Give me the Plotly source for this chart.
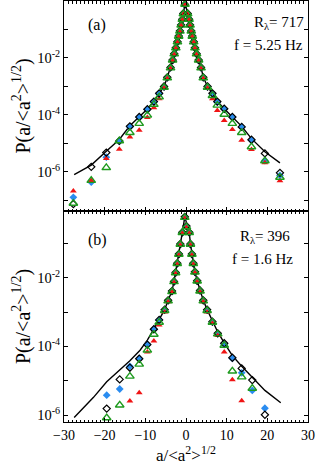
import numpy as np
import plotly.graph_objects as go

# ---------------- Panel (a): R_lambda = 717, f = 5.25 Hz ----------------
xa = [-27.7, -23.3, -19.6, -16.4, -13.8, -11.5, -9.5, -7.9, -6.6, -5.4, -4.6, -3.8, -3.3, -2.9, -2.5, -2.1,
      -1.8, -1.5, -1.2, -0.9, -0.65, -0.25,
      0.4, 0.75, 1.0, 1.3, 1.55, 1.9, 2.2, 2.6, 3.1, 3.7, 4.25, 5.3, 6.5, 7.7, 9.4, 11.4, 13.7, 16.1, 19.4, 23.1]
log_black_a = [-7.13, -5.82, -5.32, -4.91, -4.40, -4.07, -3.80, -3.53, -3.24, -3.00, -2.68, -2.33, -2.07, -1.85, -1.64, -1.43,
               -1.23, -1.05, -0.84, -0.64, -0.44, -0.12,
               -0.44, -0.64, -0.84, -1.05, -1.23, -1.43, -1.64, -1.85, -2.07, -2.33, -2.68, -3.00, -3.24, -3.53, -3.78, -4.07, -4.42, -4.87, -5.35, -6.03]
log_blue_a = [-6.89, -6.36, -5.48, -4.93, -4.42, -4.08, -3.81, -3.55, -3.26, -3.01, -2.69, -2.34, -2.08, -1.86, -1.65, -1.44,
              -1.24, -1.06, -0.85, -0.65, -0.45, -0.13,
              -0.45, -0.65, -0.85, -1.06, -1.24, -1.44, -1.65, -1.86, -2.08, -2.34, -2.69, -3.01, -3.26, -3.55, -3.79, -4.07, -4.42, -4.89, -5.60, -6.12]
log_red_a = [-6.67, -6.30, -5.53, -5.20, -4.77, -4.54, -4.09, -3.75, -3.43, -3.05, -2.72, -2.37, -2.10, -1.88, -1.66, -1.45,
             -1.25, -1.07, -0.86, -0.66, -0.46, -0.14,
             -0.46, -0.66, -0.86, -1.07, -1.25, -1.45, -1.66, -1.88, -2.10, -2.37, -2.72, -3.05, -3.43, -3.84, -4.19, -4.51, -4.89, -5.21, -5.68, -6.31]
log_green_a = [-7.10, -6.30, -5.85, -4.91, -4.62, -4.30, -4.01, -3.63, -3.37, -3.03, -2.70, -2.35, -2.08, -1.86, -1.65, -1.44,
               -1.24, -1.06, -0.85, -0.65, -0.45, -0.12,
               -0.45, -0.65, -0.85, -1.06, -1.24, -1.44, -1.65, -1.86, -2.08, -2.35, -2.70, -3.03, -3.32, -3.66, -3.98, -4.30, -4.62, -5.12, -5.61, -6.19]
x_fit_a = [-27.5, -23.3, -19.6, -16.4, -13.8, -11.4, -9.5, -7.9, -6.6, -5.4, -4.6, -3.8, -3.3, -2.9, -2.5, -2.1,
           -1.8, -1.5, -1.2, -0.9, -0.65, -0.2,
           0.4, 0.75, 1.0, 1.3, 1.55, 1.9, 2.2, 2.6, 3.1, 3.7, 4.25, 5.3, 6.5, 7.7, 9.4, 11.4, 13.7, 16.1, 19.4, 23.1]
log_fit_a = [-6.09, -5.76, -5.27, -4.86, -4.38, -4.05, -3.79, -3.52, -3.24, -3.00, -2.68, -2.33, -2.07, -1.85, -1.64, -1.43,
             -1.23, -1.05, -0.84, -0.64, -0.44, -0.08,
             -0.44, -0.64, -0.84, -1.05, -1.23, -1.43, -1.64, -1.85, -2.07, -2.33, -2.68, -3.00, -3.24, -3.52, -3.78, -4.07, -4.40, -4.83, -5.29, -5.68]

# ---------------- Panel (b): R_lambda = 396, f = 1.6 Hz ----------------
xb = [-19.5, -16.3, -13.8, -11.5, -9.5, -7.9, -6.6, -5.25, -4.4, -3.45, -2.95, -2.55, -2.15, -1.75, -1.4, -0.9, -0.3,
      0.1, 0.8, 1.1, 1.45, 1.8, 2.2, 2.75, 3.45, 4.25, 5.2, 6.5, 7.8, 9.4, 11.4, 13.7, 16.3, 19.4]
log_black_b = [-5.81, -4.96, -4.62, -4.36, -3.95, -3.50, -3.23, -2.93, -2.66, -2.39, -2.11, -1.85, -1.58, -1.31, -1.02, -0.68, -0.23,
               -0.50, -0.68, -1.02, -1.31, -1.58, -1.83, -2.09, -2.37, -2.66, -2.93, -3.28, -3.62, -3.91, -4.33, -4.64, -4.98, -5.99]
log_blue_b = [-5.42, -5.24, -4.58, -4.35, -3.94, -3.50, -3.24, -2.94, -2.67, -2.40, -2.12, -1.86, -1.59, -1.32, -1.03, -0.69, -0.24,
              -0.51, -0.69, -1.03, -1.32, -1.59, -1.84, -2.10, -2.38, -2.67, -2.94, -3.29, -3.63, -3.95, -4.35, -4.77, -5.28, -5.80]
log_red_b = [None, None, -5.59, -5.35, -4.16, -3.84, -3.38, -3.00, -2.70, -2.42, -2.14, -1.88, -1.61, -1.34, -1.05, -0.71, -0.27,
             -0.54, -0.71, -1.05, -1.34, -1.61, -1.86, -2.12, -2.41, -2.70, -3.00, -3.33, -3.68, -4.16, -4.97, -5.58, None, None]
log_green_b = [-6.08, -5.71, -4.87, -4.52, -4.11, -3.65, -3.30, -2.96, -2.68, -2.41, -2.12, -1.86, -1.59, -1.32, -1.03, -0.69, -0.25,
               -0.52, -0.69, -1.03, -1.32, -1.59, -1.84, -2.10, -2.39, -2.68, -2.96, -3.30, -3.64, -3.97, -4.72, -4.89, -5.22, None]
x_fit_b = [-27.5, -22.8, -19.5, -16.2, -13.8, -11.3, -9.5, -7.6, -6.6, -5.25, -4.4, -3.45, -2.95, -2.55, -2.15, -1.75, -1.4, -0.9, -0.3,
           0.1, 0.8, 1.1, 1.45, 1.8, 2.2, 2.75, 3.45, 4.25, 5.2, 6.5, 7.8, 9.4, 11.4, 13.7, 16.3, 19.4, 23.3]
log_fit_b = [-6.07, -5.49, -5.03, -4.69, -4.42, -4.11, -3.82, -3.43, -3.23, -2.93, -2.66, -2.39, -2.11, -1.85, -1.58, -1.31, -1.02, -0.68, -0.23,
             -0.40, -0.68, -1.02, -1.31, -1.58, -1.83, -2.09, -2.37, -2.66, -2.93, -3.26, -3.58, -3.90, -4.27, -4.58, -4.91, -5.28, -5.64]

x_ticks = [-30, -20, -10, 0, 10, 20, 30]
y_major_exps = [-6, -4, -2]
y_minor_exps = [-7, -5, -3, -1]


def pw(arr):
    return [None if v is None else 10 ** v for v in arr]


FONT = "Liberation Serif"
BLUE = "#2A8CF0"
RED = "#F01414"
GREEN = "#1E9A1E"

fig = go.Figure()


def add_panel(xx, lb, lbl, lr, lg, xf, lf, xa_name, ya_name):
    fig.add_trace(go.Scatter(x=xf, y=pw(lf), mode="lines", line=dict(color="black", width=1.4),
                             xaxis=xa_name, yaxis=ya_name, showlegend=False))
    fig.add_trace(go.Scatter(x=xx, y=pw(lbl), mode="markers",
                             marker=dict(symbol="diamond", size=6, color=BLUE),
                             xaxis=xa_name, yaxis=ya_name, showlegend=False))
    fig.add_trace(go.Scatter(x=xx, y=pw(lr), mode="markers",
                             marker=dict(symbol="triangle-up", size=6, color=RED),
                             xaxis=xa_name, yaxis=ya_name, showlegend=False))
    fig.add_trace(go.Scatter(x=xx, y=pw(lb), mode="markers",
                             marker=dict(symbol="diamond-open", size=5.5, color="black", line=dict(width=1.2)),
                             xaxis=xa_name, yaxis=ya_name, showlegend=False))
    fig.add_trace(go.Scatter(x=xx, y=pw(lg), mode="markers",
                             marker=dict(symbol="triangle-up-open", size=7.5, color=GREEN, line=dict(width=1.4)),
                             xaxis=xa_name, yaxis=ya_name, showlegend=False))


add_panel(xa, log_black_a, log_blue_a, log_red_a, log_green_a, x_fit_a, log_fit_a, "x", "y")
add_panel(xb, log_black_b, log_blue_b, log_red_b, log_green_b, x_fit_b, log_fit_b, "x2", "y2")

ytickvals = [10 ** e for e in y_major_exps]
yticktext = ["10<sup>%d</sup>" % e for e in y_major_exps]
yminorvals = [10 ** e for e in y_minor_exps]

common_x = dict(range=[-30, 30], showline=True, linecolor="black", linewidth=1, mirror="ticks",
                ticks="inside", ticklen=4, tickcolor="black", tickvals=x_ticks, showgrid=False, zeroline=False,
                automargin=False,
                minor=dict(dtick=1, ticks="inside", ticklen=2.5, tickcolor="black", showgrid=False))
common_y = dict(type="log", showline=True, linecolor="black", linewidth=1, mirror="ticks",
                ticks="inside", ticklen=4, tickcolor="black", tickvals=ytickvals, ticktext=yticktext,
                showgrid=False, zeroline=False, automargin=False,
                minor=dict(tickmode="array", tickvals=yminorvals, ticks="inside", ticklen=4, tickcolor="black",
                           showgrid=False),
                tickfont=dict(family=FONT, size=14.5, color="black"),
                title=dict(text="P(a/&lt;a<sup>2</sup>&gt;<sup>1/2</sup>)", font=dict(family=FONT, size=20, color="black"),
                           standoff=1))

split = 211 / 421
fig.update_layout(
    width=318, height=467,
    margin=dict(l=64, r=10, t=1, b=45),
    paper_bgcolor="white", plot_bgcolor="white",
    xaxis=dict(common_x, anchor="y", showticklabels=False),
    yaxis=dict(common_y, domain=[split, 1], range=[-7.37, 0], anchor="x"),
    xaxis2=dict(common_x, anchor="y2", showticklabels=True,
                tickfont=dict(family=FONT, size=14, color="black"),
                title=dict(text="a/&lt;a<sup>2</sup>&gt;<sup>1/2</sup>", font=dict(family=FONT, size=17, color="black"),
                           standoff=1)),
    yaxis2=dict(common_y, domain=[0, split], range=[-6.2, -0.06], anchor="x2"),
)


def px2paper(px, py):
    return (px - 64) / 244, (422 - py) / 421


annots = [
    ("(a)", 97, 25, "center", 16),
    ("R<sub>λ</sub>= 717", 306, 23, "right", 15),
    ("f = 5.25 Hz", 305, 45, "right", 15),
    ("(b)", 97, 240, "center", 16),
    ("R<sub>λ</sub>= 396", 292, 237, "right", 15),
    ("f = 1.6 Hz", 295, 259, "right", 15),
]
for text, px, py, anc, sz in annots:
    ax, ay = px2paper(px, py)
    fig.add_annotation(text=text, x=ax, y=ay, xref="paper", yref="paper", xanchor=anc, yanchor="middle",
                       showarrow=False, font=dict(family=FONT, size=sz, color="black"))

fig.write_html("out.html", config={"displayModeBar": False},
               post_script="document.body.style.margin='0px';document.body.style.padding='0px';")
